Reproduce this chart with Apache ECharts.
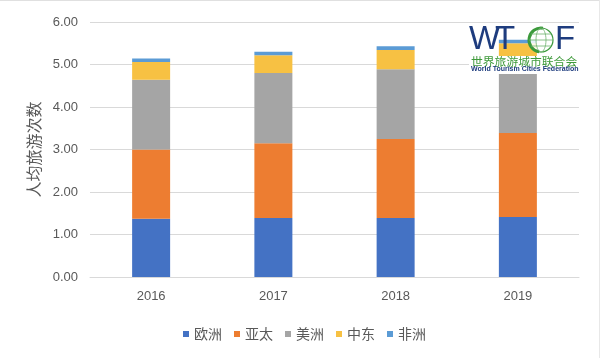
<!DOCTYPE html>
<html>
<head>
<meta charset="utf-8">
<script src="https://cdn.jsdelivr.net/npm/echarts@6/dist/echarts.min.js"></script>
<style>
html,body{margin:0;padding:0;background:#fff;}
#c{width:600px;height:358px;}
</style>
</head>
<body>
<div id="c"></div>
<script>
var years = ['2016', '2017', '2018', '2019'];
var europe = [1.37, 1.39, 1.39, 1.41];
var asiaPacific = [1.63, 1.76, 1.86, 1.98];
var americas = [1.64, 1.65, 1.64, 1.64];
var middleEast = [0.42, 0.42, 0.45, 0.47];
var africa = [0.08, 0.08, 0.09, 0.08];
var seriesNames = ['欧洲', '亚太', '美洲', '中东', '非洲'];
var seriesColors = ['#4472C4', '#ED7D31', '#A5A5A5', '#F7C143', '#5B9BD5'];
var seriesData = [europe, asiaPacific, americas, middleEast, africa];

var chart = echarts.init(document.getElementById('c'), null, {renderer: 'canvas'});
var font = '"Liberation Sans", Arial, "Noto Sans CJK SC", sans-serif';
var cjk = '"Noto Sans CJK SC", sans-serif';

var series = seriesNames.map(function (n, i) {
  return {
    name: n,
    type: 'bar',
    stack: 'total',
    barWidth: 38,
    data: seriesData[i],
    itemStyle: {color: seriesColors[i]},
    z: 2
  };
});

chart.setOption({
  animation: false,
  backgroundColor: '#ffffff',
  textStyle: {fontFamily: font},
  grid: {left: 90, right: 21, top: 22, bottom: 81},
  legend: {
    data: seriesNames,
    left: 178,
    top: 322,
    itemWidth: 6,
    itemHeight: 6,
    itemGap: 12,
    icon: 'rect',
    textStyle: {color: '#595959', fontSize: 14, fontFamily: cjk}
  },
  xAxis: {
    type: 'category',
    data: years,
    axisTick: {show: false},
    axisLine: {lineStyle: {color: '#D9D9D9', width: 1}},
    axisLabel: {color: '#595959', fontSize: 13, margin: 13}
  },
  yAxis: {
    type: 'value',
    min: 0,
    max: 6,
    interval: 1,
    name: '人均旅游次数',
    nameLocation: 'middle',
    nameRotate: 90,
    nameGap: 48,
    nameTextStyle: {color: '#595959', fontSize: 16, fontFamily: cjk},
    axisLine: {show: false},
    axisTick: {show: false},
    splitLine: {lineStyle: {color: '#D9D9D9', width: 1}},
    axisLabel: {color: '#595959', fontSize: 13, margin: 12,
      formatter: function (v) { return v.toFixed(2); }}
  },
  graphic: [
    {type: 'line', shape: {x1: 0, y1: 0.5, x2: 600, y2: 0.5}, style: {stroke: '#E0E0E0', lineWidth: 1}, z: 10},
    {type: 'line', shape: {x1: 599.5, y1: 0, x2: 599.5, y2: 358}, style: {stroke: '#E8E8E8', lineWidth: 1}, z: 10},
    {type: 'rect', shape: {x: 469, y: 56, width: 112, height: 18}, style: {fill: '#ffffff'}, z: 10},
    {type: 'text', left: 469, top: 23, style: {text: 'W', font: '33px "Liberation Sans", Arial, sans-serif', fill: '#1E3C7E'}, z: 11},
    {type: 'text', left: 495, top: 23, style: {text: 'T', font: '33px "Liberation Sans", Arial, sans-serif', fill: '#1E3C7E'}, z: 11},
    {type: 'text', left: 555, top: 23, style: {text: 'F', font: '33px "Liberation Sans", Arial, sans-serif', fill: '#1E3C7E'}, z: 11},
    {type: 'circle', shape: {cx: 541, cy: 40, r: 12}, style: {fill: 'rgba(255,255,255,0.85)', stroke: '#3C9A3C', lineWidth: 1.2}, z: 11},
    {type: 'arc', shape: {cx: 541, cy: 40, r: 12, startAngle: Math.PI * 0.55, endAngle: Math.PI * 1.55}, style: {stroke: '#3C9A3C', lineWidth: 3, fill: 'none'}, z: 12},
    {type: 'ellipse', shape: {cx: 541, cy: 40, rx: 5, ry: 12}, style: {stroke: '#6DB36D', lineWidth: 0.8, fill: 'none'}, z: 12},
    {type: 'line', shape: {x1: 529, y1: 40, x2: 553, y2: 40}, style: {stroke: '#6DB36D', lineWidth: 0.8}, z: 12},
    {type: 'line', shape: {x1: 531, y1: 34, x2: 551, y2: 34}, style: {stroke: '#6DB36D', lineWidth: 0.8}, z: 12},
    {type: 'line', shape: {x1: 531, y1: 46, x2: 551, y2: 46}, style: {stroke: '#6DB36D', lineWidth: 0.8}, z: 12},
    {type: 'text', left: 471, top: 56, style: {text: '世界旅游城市联合会', font: '11.8px "Noto Sans CJK SC", sans-serif', fill: '#3E9A3A'}, z: 11},
    {type: 'text', left: 471, top: 66, style: {text: 'World Tourism Cities Federation', font: 'bold 7px "Liberation Sans", Arial, sans-serif', fill: '#1E3C7E'}, z: 11}
  ],
  series: series
});
</script>
</body>
</html>
